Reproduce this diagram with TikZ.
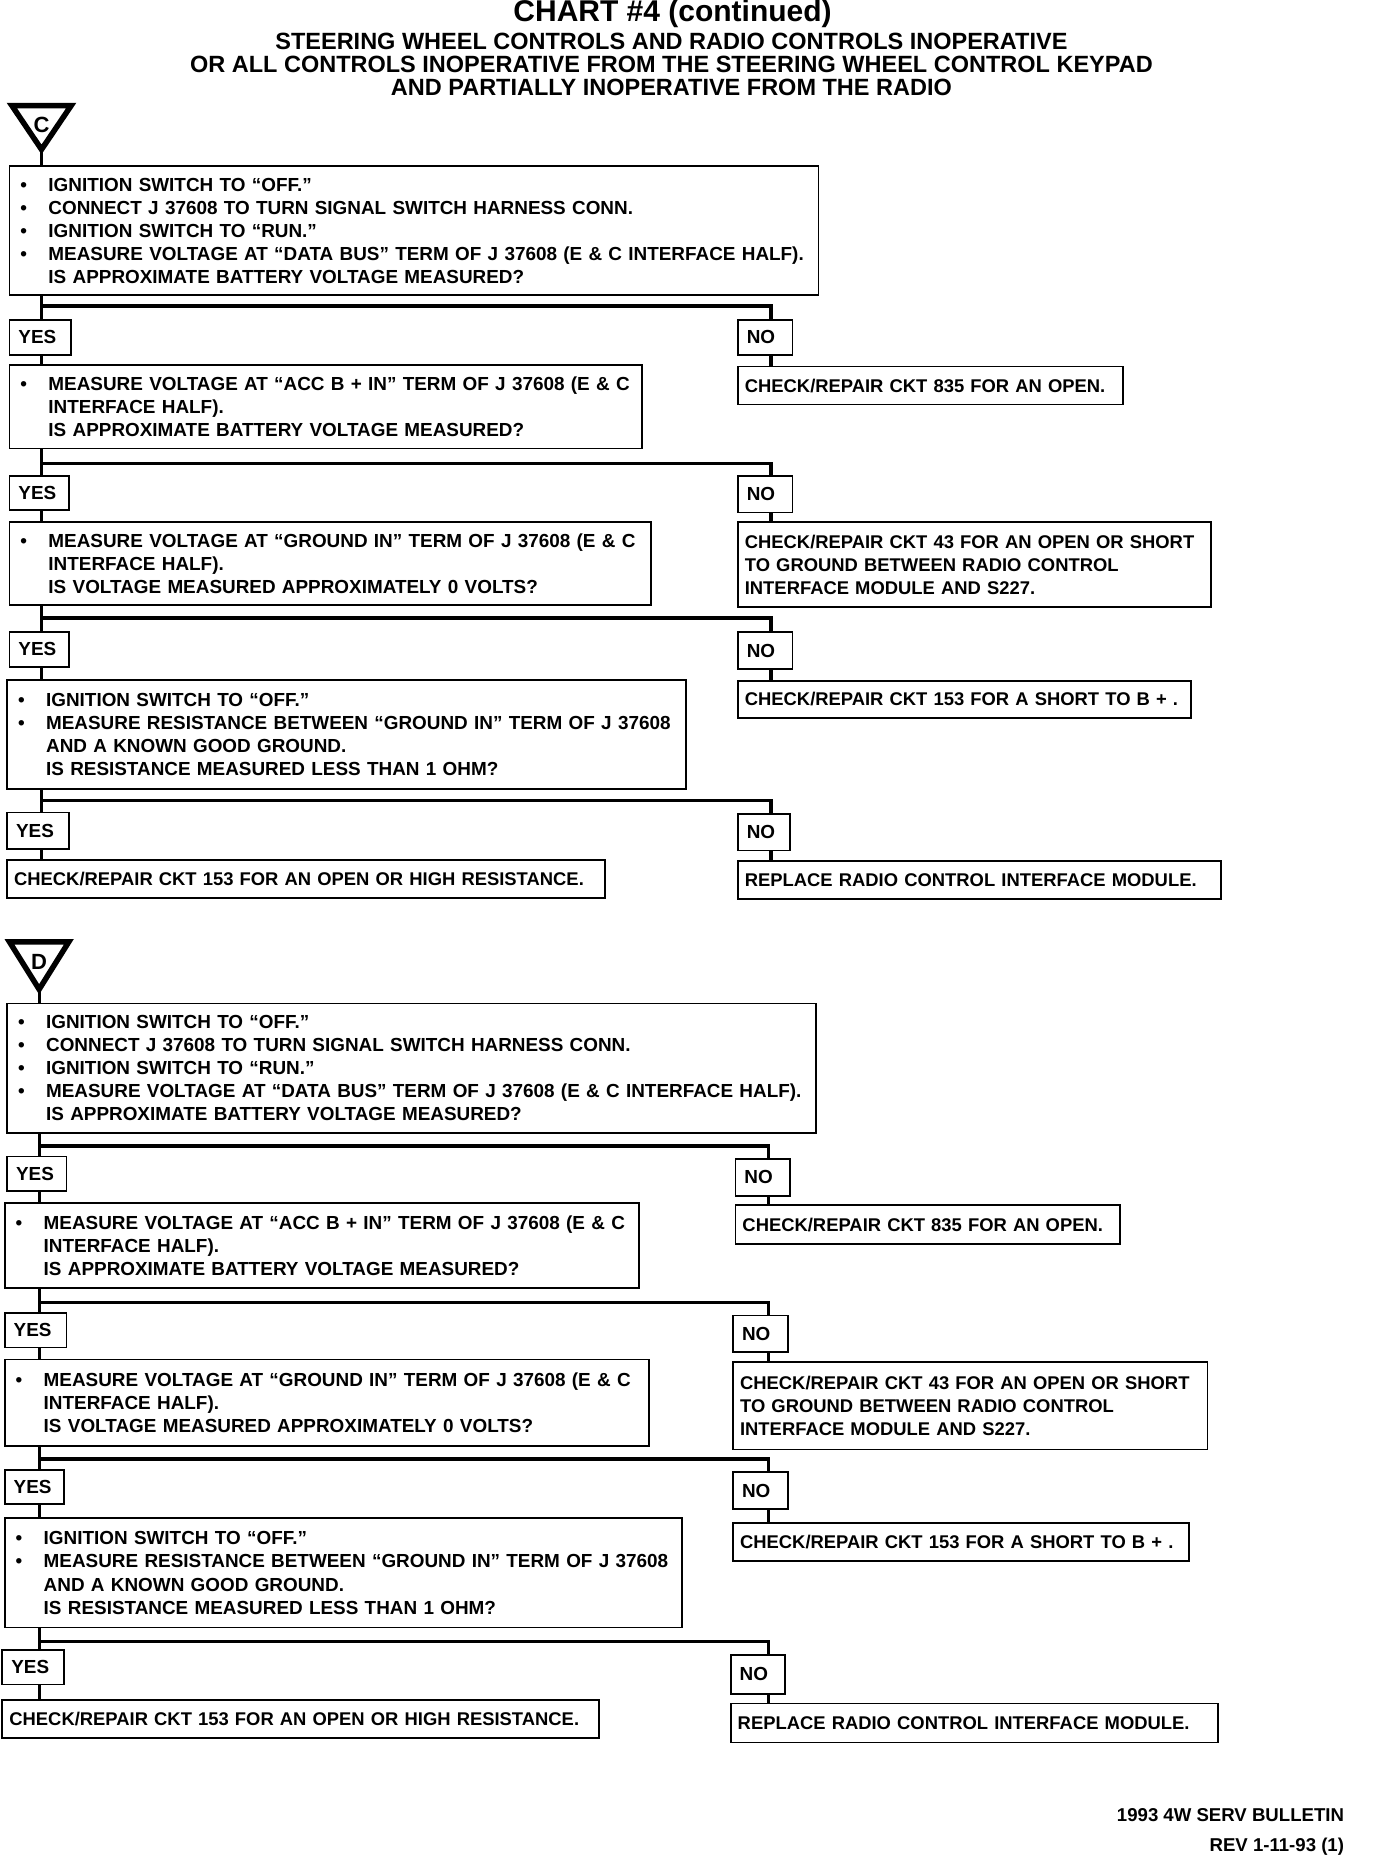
\documentclass[tikz,border=0pt]{standalone}
\usepackage{fontspec}
\setmainfont{Liberation Sans}
\newcommand\bx[7]{%
  \pgfmathsetlengthmacro\bw{(#4-#2)*1.1862pt}%
  \pgfmathsetlengthmacro\bh{(#5-#3)*1.1862pt}%
  \pgfmathsetlengthmacro\tw{(#4-#2)*1.1862pt-2*#6}%
  \node[box,#7,inner xsep=#6,minimum width=\bw,minimum height=\bh,text width=\tw] (#1) at ({(#2+#4)/2},{(#3+#5)/2})}
\newcommand\bul{\makebox[28pt][l]{\textbullet}}
\newcommand\ind{\hspace*{28pt}}
\begin{document}
\begin{tikzpicture}[x=1.1862pt,y=-1.1862pt,
  box/.style={draw,line width=1.8pt,inner ysep=0pt,align=left,
    font=\bfseries\fontsize{18.9}{23.1}\selectfont},
  res/.style={font=\bfseries\fontsize{18.4}{23.1}\selectfont},
  conn/.style={line width=3.2pt},
  tri/.style={line width=5.5pt,line join=miter},
  ttl/.style={font=\bfseries\fontsize{23.5}{23}\selectfont,align=center},
  foot/.style={font=\bfseries\fontsize{18.6}{30}\selectfont,align=right,anchor=north east}]
\useasboundingbox (0,0) rectangle (1160,1568);
% titles
\node[font=\bfseries\fontsize{30}{30}\selectfont] (t0) at (567,12) {CHART \#4 (continued)};
\node[ttl] (t1) at (566,54) {STEERING WHEEL CONTROLS AND RADIO CONTROLS INOPERATIVE\\OR ALL CONTROLS INOPERATIVE FROM THE STEERING WHEEL CONTROL KEYPAD\\AND PARTIALLY INOPERATIVE FROM THE RADIO};
\coordinate (xyc) at (35,0);
\coordinate (xnc) at (650,0);
% ===== Section C =====
\coordinate (apC) at (35,126);
\draw[tri] (10,89) -- (60,89) -- (apC) -- cycle;
\node[font=\bfseries\fontsize{22}{22}\selectfont] (lC) at (35,105) {C};
\bx{c1}{8}{140}{690}{249}{11pt}{} {\bul IGNITION SWITCH TO “OFF.”\\\bul CONNECT J 37608 TO TURN SIGNAL SWITCH HARNESS CONN.\\\bul IGNITION SWITCH TO “RUN.”\\\bul MEASURE VOLTAGE AT “DATA BUS” TERM OF J 37608 (E \& C INTERFACE HALF).\\\ind IS APPROXIMATE BATTERY VOLTAGE MEASURED?};
\draw[conn] (apC) -- (c1.north -| apC);
\coordinate (bc1) at (0,258);
\bx{cy1}{8}{270}{60}{299}{9pt}{} {YES};
\bx{cn1}{622}{270}{668}{299}{9pt}{} {NO};
\bx{c2}{8}{308}{541}{378}{11pt}{} {\bul MEASURE VOLTAGE AT “ACC B + IN” TERM OF J 37608 (E \& C\\\ind INTERFACE HALF).\\\ind IS APPROXIMATE BATTERY VOLTAGE MEASURED?};
\bx{cn1r}{622}{309}{947}{341}{7pt}{res} {CHECK/REPAIR CKT 835 FOR AN OPEN.};
\coordinate (bc2) at (0,391);
\bx{cy2}{8}{401}{58}{430}{9pt}{} {YES};
\bx{cn2}{622}{401}{668}{432}{9pt}{} {NO};
\bx{c3}{8}{440}{549}{510}{11pt}{} {\bul MEASURE VOLTAGE AT “GROUND IN” TERM OF J 37608 (E \& C\\\ind INTERFACE HALF).\\\ind IS VOLTAGE MEASURED APPROXIMATELY 0 VOLTS?};
\bx{cn2r}{622}{440}{1021}{512}{7pt}{res} {CHECK/REPAIR CKT 43 FOR AN OPEN OR SHORT\\TO GROUND BETWEEN RADIO CONTROL\\INTERFACE MODULE AND S227.};
\coordinate (bc3) at (0,521);
\bx{cy3}{8}{533}{58}{562}{9pt}{} {YES};
\bx{cn3}{622}{533}{668}{564}{9pt}{} {NO};
\bx{c4}{6}{573}{578}{665}{11pt}{} {\bul IGNITION SWITCH TO “OFF.”\\\bul MEASURE RESISTANCE BETWEEN “GROUND IN” TERM OF J 37608\\\ind AND A KNOWN GOOD GROUND.\\\ind IS RESISTANCE MEASURED LESS THAN 1 OHM?};
\bx{cn3r}{622}{574}{1004}{605}{7pt}{res} {CHECK/REPAIR CKT 153 FOR A SHORT TO B + .};
\coordinate (bc4) at (0,675);
\bx{cy4}{6}{685}{58}{716}{9pt}{} {YES};
\bx{cn4}{622}{686}{666}{717}{9pt}{} {NO};
\bx{cy4r}{6}{725}{510}{757}{7pt}{res} {CHECK/REPAIR CKT 153 FOR AN OPEN OR HIGH RESISTANCE.};
\bx{cn4r}{622}{726}{1029}{758}{7pt}{res} {REPLACE RADIO CONTROL INTERFACE MODULE.};
% connectors C
\foreach \q/\y/\n/\b/\ny/\nn in {c1/cy1/cn1/bc1/c2/cn1r, c2/cy2/cn2/bc2/c3/cn2r, c3/cy3/cn3/bc3/c4/cn3r, c4/cy4/cn4/bc4/cy4r/cn4r}{
  \draw[conn] (\q.south -| xyc) -- (\y.north -| xyc);
  \draw[conn] (\b -| xyc) -| (\n.north -| xnc);
  \draw[conn] (\y.south -| xyc) -- (\ny.north -| xyc);
  \draw[conn] (\n.south -| xnc) -- (\nn.north -| xnc);
}
% ===== Section D =====
\coordinate (xyd) at (33,0);
\coordinate (xnd) at (648,0);
\coordinate (apD) at (33,834);
\draw[tri] (8,794) -- (58,794) -- (apD) -- cycle;
\node[font=\bfseries\fontsize{22}{22}\selectfont] (lD) at (33,811) {D};
\bx{d1}{6}{846}{688}{955}{11pt}{} {\bul IGNITION SWITCH TO “OFF.”\\\bul CONNECT J 37608 TO TURN SIGNAL SWITCH HARNESS CONN.\\\bul IGNITION SWITCH TO “RUN.”\\\bul MEASURE VOLTAGE AT “DATA BUS” TERM OF J 37608 (E \& C INTERFACE HALF).\\\ind IS APPROXIMATE BATTERY VOLTAGE MEASURED?};
\draw[conn] (apD) -- (d1.north -| apD);
\coordinate (bd1) at (0,966);
\bx{dy1}{6}{975}{56}{1004}{9pt}{} {YES};
\bx{dn1}{620}{977}{666}{1008}{9pt}{} {NO};
\bx{d2}{4}{1014}{539}{1086}{11pt}{} {\bul MEASURE VOLTAGE AT “ACC B + IN” TERM OF J 37608 (E \& C\\\ind INTERFACE HALF).\\\ind IS APPROXIMATE BATTERY VOLTAGE MEASURED?};
\bx{dn1r}{620}{1016}{944}{1049}{7pt}{res} {CHECK/REPAIR CKT 835 FOR AN OPEN.};
\coordinate (bd2) at (0,1098);
\bx{dy2}{4}{1107}{56}{1136}{9pt}{} {YES};
\bx{dn2}{618}{1109}{664}{1140}{9pt}{} {NO};
\bx{d3}{4}{1146}{547}{1219}{11pt}{} {\bul MEASURE VOLTAGE AT “GROUND IN” TERM OF J 37608 (E \& C\\\ind INTERFACE HALF).\\\ind IS VOLTAGE MEASURED APPROXIMATELY 0 VOLTS?};
\bx{dn2r}{618}{1148}{1018}{1222}{7pt}{res} {CHECK/REPAIR CKT 43 FOR AN OPEN OR SHORT\\TO GROUND BETWEEN RADIO CONTROL\\INTERFACE MODULE AND S227.};
\coordinate (bd3) at (0,1230);
\bx{dy3}{4}{1239}{54}{1268}{9pt}{} {YES};
\bx{dn3}{618}{1241}{664}{1272}{9pt}{} {NO};
\bx{d4}{4}{1280}{575}{1372}{11pt}{} {\bul IGNITION SWITCH TO “OFF.”\\\bul MEASURE RESISTANCE BETWEEN “GROUND IN” TERM OF J 37608\\\ind AND A KNOWN GOOD GROUND.\\\ind IS RESISTANCE MEASURED LESS THAN 1 OHM?};
\bx{dn3r}{618}{1284}{1002}{1316}{7pt}{res} {CHECK/REPAIR CKT 153 FOR A SHORT TO B + .};
\coordinate (bd4) at (0,1384);
\bx{dy4}{2}{1391}{54}{1420}{9pt}{} {YES};
\bx{dn4}{616}{1395}{662}{1428}{9pt}{} {NO};
\bx{dy4r}{2}{1433}{505}{1465}{7pt}{res} {CHECK/REPAIR CKT 153 FOR AN OPEN OR HIGH RESISTANCE.};
\bx{dn4r}{616}{1436}{1027}{1469}{7pt}{res} {REPLACE RADIO CONTROL INTERFACE MODULE.};
\foreach \q/\y/\n/\b/\ny/\nn in {d1/dy1/dn1/bd1/d2/dn1r, d2/dy2/dn2/bd2/d3/dn2r, d3/dy3/dn3/bd3/d4/dn3r, d4/dy4/dn4/bd4/dy4r/dn4r}{
  \draw[conn] (\q.south -| xyd) -- (\y.north -| xyd);
  \draw[conn] (\b -| xyd) -| (\n.north -| xnd);
  \draw[conn] (\y.south -| xyd) -- (\ny.north -| xyd);
  \draw[conn] (\n.south -| xnd) -- (\nn.north -| xnd);
}
% footer
\node[foot] (ft) at (1136,1522) {1993 4W SERV BULLETIN\\REV 1-11-93 (1)};
\end{tikzpicture}
\end{document}
